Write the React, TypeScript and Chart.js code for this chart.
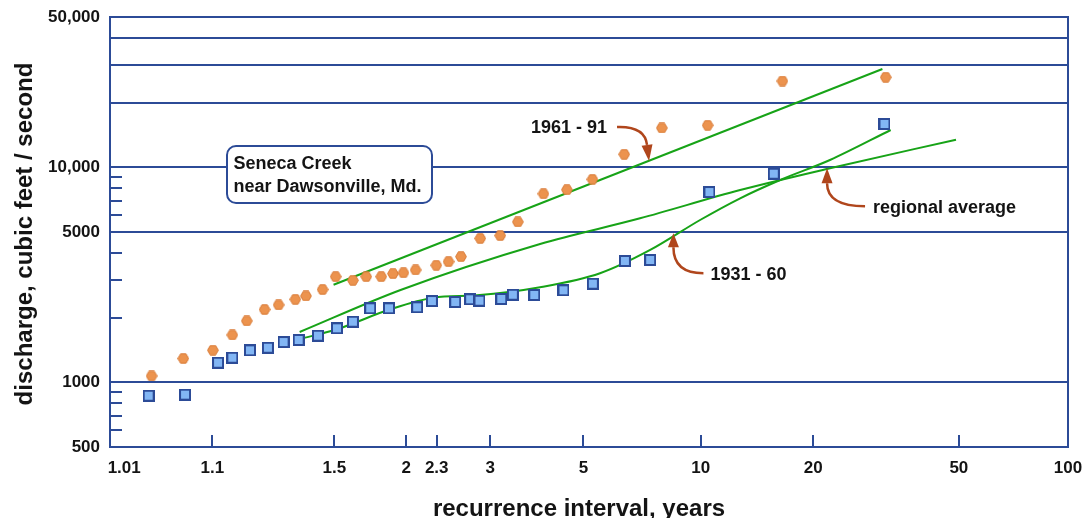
import React, { useEffect, useRef } from 'react';
import { Chart, registerables } from 'chart.js';

Chart.register(...registerables);

// ---------- axes ----------
const X_TICKS = [1.01, 1.1, 1.5, 2, 2.3, 3, 5, 10, 20, 50, 100];
const X_TICK_LABELS = ['1.01', '1.1', '1.5', '2', '2.3', '3', '5', '10', '20', '50', '100'];
const Y_TICKS = [500, 600, 700, 800, 900, 1000, 2000, 3000, 4000, 5000, 6000, 7000, 8000, 9000, 10000, 20000, 30000, 40000, 50000];
const Y_TICK_LABELS = ['500', '', '', '', '', '1000', '', '', '', '5000', '', '', '', '', '10,000', '', '', '', '50,000'];
const Y_GRID = [1000, 5000, 10000, 20000, 30000, 40000, 50000];

// ---------- observed annual peaks (recurrence interval, years / discharge, cfs) ----------
const T_1961_91 = [1.03, 1.059, 1.101, 1.138, 1.171, 1.219, 1.263, 1.323, 1.366, 1.441, 1.507, 1.605, 1.69, 1.796, 1.887, 1.975, 2.085, 2.295, 2.434, 2.587, 2.851, 3.163, 3.473, 3.994, 4.552, 5.263, 6.33, 7.91, 10.43, 16.51, 31.5];
const Q_1961_91 = [1070, 1290, 1410, 1660, 1930, 2180, 2290, 2430, 2520, 2700, 3100, 2980, 3100, 3100, 3200, 3230, 3330, 3500, 3640, 3840, 4670, 4810, 5570, 7530, 7860, 8790, 11490, 15230, 15680, 25190, 26210];

const T_1931_60 = [1.028, 1.061, 1.11, 1.138, 1.179, 1.229, 1.28, 1.336, 1.419, 1.514, 1.605, 1.717, 1.855, 2.1, 2.248, 2.515, 2.709, 2.84, 3.18, 3.382, 3.797, 4.464, 5.277, 6.357, 7.38, 10.54, 15.65, 31.25];
const Q_1931_60 = [866, 876, 1233, 1301, 1408, 1448, 1539, 1573, 1647, 1783, 1913, 2209, 2209, 2233, 2388, 2363, 2432, 2396, 2440, 2555, 2547, 2678, 2874, 3666, 3706, 7673, 9335, 15897];

// ---------- fitted frequency curves ----------
const FIT_1961_91_T = [1.496, 30.85];
const FIT_1961_91_Q = [2843, 28650];
const FIT_1931_60_T = [1.336, 1.514, 1.865, 2.266, 2.803, 3.92, 5.5, 7.38, 9.96, 12.72, 16.28, 22.2, 32.5];
const FIT_1931_60_Q = [1584, 1764, 2185, 2474, 2538, 2766, 3213, 4124, 5686, 7175, 8729, 10812, 14907];
const REGIONAL_T = [1.34, 1.95, 3.92, 6.95, 12.72, 22.2, 49.1];
const REGIONAL_Q = [1714, 2687, 4398, 5788, 7838, 9897, 13438];

// ---------- annotation anchors (data coords of arrow tips) ----------
const ANNOTATION_TEXT = ['1961 - 91', 'regional average', '1931 - 60'];
const ANNOTATION_T = [7.33, 21.8, 8.48];
const ANNOTATION_Q = [10700, 9900, 4930];

const NAVY = '#2c4b97';
const GREEN = '#17a317';
const BROWN = '#b0461c';
const INK = '#141414';
const FONT = '"Liberation Sans", Arial, Helvetica, sans-serif';

const gumbel = (T: number) => -Math.log(-Math.log(1 - 1 / T));

function makeHexagon(): HTMLCanvasElement {
  const c = document.createElement('canvas');
  c.width = 12;
  c.height = 11;
  const g = c.getContext('2d')!;
  const cx = 6, cy = 5.5, r = 5.4;
  g.beginPath();
  for (let i = 0; i < 6; i++) {
    const a = (Math.PI / 3) * i;
    const x = cx + r * Math.cos(a);
    const y = cy + r * Math.sin(a);
    if (i === 0) g.moveTo(x, y);
    else g.lineTo(x, y);
  }
  g.closePath();
  g.fillStyle = '#ec934e';
  g.fill();
  g.strokeStyle = '#d87a36';
  g.lineWidth = 1;
  g.stroke();
  return c;
}

function makeSquare(): HTMLCanvasElement {
  const c = document.createElement('canvas');
  c.width = 12;
  c.height = 12;
  const g = c.getContext('2d')!;
  g.fillStyle = '#82b6f4';
  g.fillRect(1, 1, 10, 10);
  g.strokeStyle = NAVY;
  g.lineWidth = 2;
  g.strokeRect(1, 1, 10, 10);
  return c;
}

type ArrowSpec = {
  textDx: number; textDy: number; align: CanvasTextAlign;
  start: [number, number]; ctrl: [number, number]; end: [number, number];
};
const ARROWS: ArrowSpec[] = [
  { textDx: -42, textDy: -34, align: 'right', start: [-32, -34], ctrl: [-4, -35], end: [-2, -16] },
  { textDx: 46, textDy: 38, align: 'left', start: [38, 38], ctrl: [0, 38], end: [0, 15] },
  { textDx: 37, textDy: 40, align: 'left', start: [30, 40], ctrl: [0, 40], end: [0, 14] },
];

const overlayPlugin = {
  id: 'overlay',
  beforeDatasetsDraw(chart: any) {
    const { ctx, chartArea: a, scales } = chart;
    const xs = scales.x, ys = scales.y;
    ctx.save();
    ctx.strokeStyle = NAVY;
    ctx.lineWidth = 2;
    // minor y ticks inside the plot
    Y_TICKS.forEach((v) => {
      if (Y_GRID.includes(v) || v === Y_TICKS[0]) return;
      const y = Math.round(ys.getPixelForValue(v));
      ctx.beginPath();
      ctx.moveTo(a.left, y);
      ctx.lineTo(a.left + 12, y);
      ctx.stroke();
    });
    // x ticks inside the plot
    X_TICKS.forEach((t, i) => {
      if (i === 0 || i === X_TICKS.length - 1) return;
      const x = Math.round(xs.getPixelForValue(gumbel(t)));
      ctx.beginPath();
      ctx.moveTo(x, a.bottom);
      ctx.lineTo(x, a.bottom - 12);
      ctx.stroke();
    });
    // frame
    ctx.strokeRect(a.left, a.top, a.right - a.left, a.bottom - a.top);
    ctx.restore();
  },
  afterDatasetsDraw(chart: any) {
    const { ctx, scales } = chart;
    const xs = scales.x, ys = scales.y;
    ctx.save();

    // station box
    ctx.beginPath();
    (ctx as any).roundRect(227, 146, 205, 57, 9);
    ctx.fillStyle = '#ffffff';
    ctx.fill();
    ctx.strokeStyle = NAVY;
    ctx.lineWidth = 2;
    ctx.stroke();
    ctx.fillStyle = INK;
    ctx.font = `bold 18px ${FONT}`;
    ctx.textAlign = 'left';
    ctx.textBaseline = 'alphabetic';
    ctx.fillText('Seneca Creek', 233.5, 168.5);
    ctx.fillText('near Dawsonville, Md.', 233.5, 191.5);

    // arrows + labels
    ARROWS.forEach((s, i) => {
      const tx = xs.getPixelForValue(gumbel(ANNOTATION_T[i]));
      const ty = ys.getPixelForValue(ANNOTATION_Q[i]);
      ctx.strokeStyle = BROWN;
      ctx.fillStyle = BROWN;
      ctx.lineWidth = 2.5;
      ctx.beginPath();
      ctx.moveTo(tx + s.start[0], ty + s.start[1]);
      ctx.quadraticCurveTo(tx + s.ctrl[0], ty + s.ctrl[1], tx + s.end[0], ty + s.end[1]);
      ctx.stroke();
      const bx = tx + s.end[0], by = ty + s.end[1];
      const len = Math.hypot(s.end[0], s.end[1]);
      const ux = -s.end[0] / len, uy = -s.end[1] / len;
      const px = -uy, py = ux;
      const hw = 5.5;
      ctx.beginPath();
      ctx.moveTo(tx, ty);
      ctx.lineTo(bx + px * hw, by + py * hw);
      ctx.lineTo(bx - px * hw, by - py * hw);
      ctx.closePath();
      ctx.fill();
      ctx.fillStyle = INK;
      ctx.font = `bold 18px ${FONT}`;
      ctx.textAlign = s.align;
      ctx.textBaseline = 'alphabetic';
      ctx.fillText(ANNOTATION_TEXT[i], tx + s.textDx, ty + s.textDy + 6.5);
    });

    // axis titles
    ctx.fillStyle = INK;
    ctx.font = `bold 24px ${FONT}`;
    ctx.textAlign = 'center';
    ctx.textBaseline = 'alphabetic';
    ctx.fillText('recurrence interval, years', 579, 516);
    ctx.translate(32, 234);
    ctx.rotate(-Math.PI / 2);
    ctx.fillText('discharge, cubic feet / second', 0, 0);
    ctx.restore();
  },
};

export default function App() {
  const ref = useRef<HTMLCanvasElement | null>(null);

  useEffect(() => {
    if (!ref.current) return;
    const hex = makeHexagon();
    const sq = makeSquare();
    const pts = (T: number[], Q: number[]) => T.map((t, i) => ({ x: gumbel(t), y: Q[i] }));

    const chart = new Chart(ref.current, {
      type: 'scatter',
      data: {
        datasets: [
          {
            label: '1961-91 peaks',
            data: pts(T_1961_91, Q_1961_91),
            pointStyle: hex as any,
            pointRadius: 6,
            showLine: false,
            order: 1,
          },
          {
            label: '1931-60 peaks',
            data: pts(T_1931_60, Q_1931_60),
            pointStyle: sq as any,
            pointRadius: 6,
            showLine: false,
            order: 1,
          },
          {
            label: '1961 - 91',
            data: pts(FIT_1961_91_T, FIT_1961_91_Q),
            showLine: true,
            borderColor: GREEN,
            borderWidth: 2,
            pointRadius: 0,
            order: 2,
          },
          {
            label: '1931 - 60',
            data: pts(FIT_1931_60_T, FIT_1931_60_Q),
            showLine: true,
            borderColor: GREEN,
            borderWidth: 2,
            pointRadius: 0,
            cubicInterpolationMode: 'monotone',
            order: 2,
          },
          {
            label: 'regional average',
            data: pts(REGIONAL_T, REGIONAL_Q),
            showLine: true,
            borderColor: GREEN,
            borderWidth: 2,
            pointRadius: 0,
            cubicInterpolationMode: 'monotone',
            order: 2,
          },
        ] as any,
      },
      options: {
        animation: false,
        responsive: false,
        devicePixelRatio: 1,
        layout: { padding: { left: 0, right: 18, top: 17, bottom: 0 } },
        plugins: {
          legend: { display: false },
          tooltip: { enabled: false },
          title: { display: false },
        },
        scales: {
          x: {
            type: 'linear',
            min: gumbel(X_TICKS[0]),
            max: gumbel(X_TICKS[X_TICKS.length - 1]),
            grid: { display: false },
            border: { display: false },
            afterBuildTicks: (s: any) => {
              s.ticks = X_TICKS.map((t) => ({ value: gumbel(t) }));
            },
            afterFit: (s: any) => {
              s.height = 71;
              s.paddingLeft = 0;
              s.paddingRight = 0;
            },
            ticks: {
              autoSkip: false,
              maxRotation: 0,
              minRotation: 0,
              padding: 3,
              color: INK,
              font: { family: FONT, size: 17, weight: 'bold' },
              callback: (_v: any, i: number) => (i === 0 ? '      ' + X_TICK_LABELS[i] : X_TICK_LABELS[i]),
            },
          },
          y: {
            type: 'logarithmic',
            min: Y_TICKS[0],
            max: Y_TICKS[Y_TICKS.length - 1],
            border: { display: false },
            grid: {
              color: (c: any) => (c.tick && Y_GRID.includes(c.tick.value) ? NAVY : 'rgba(0,0,0,0)'),
              lineWidth: 2,
              drawTicks: false,
            },
            afterBuildTicks: (s: any) => {
              s.ticks = Y_TICKS.map((v) => ({ value: v }));
            },
            afterFit: (s: any) => {
              s.width = 110;
              s.paddingTop = 0;
              s.paddingBottom = 0;
            },
            ticks: {
              autoSkip: false,
              padding: 10,
              color: INK,
              font: { family: FONT, size: 17, weight: 'bold' },
              callback: (_v: any, i: number) => Y_TICK_LABELS[i],
            },
          },
        },
      } as any,
      plugins: [overlayPlugin],
    });
    return () => chart.destroy();
  }, []);

  return (
    <div style={{ position: 'fixed', left: 0, top: 0, width: 1086, height: 518, background: '#fff' }}>
      <canvas ref={ref} width={1086} height={518} style={{ display: 'block' }} />
    </div>
  );
}
